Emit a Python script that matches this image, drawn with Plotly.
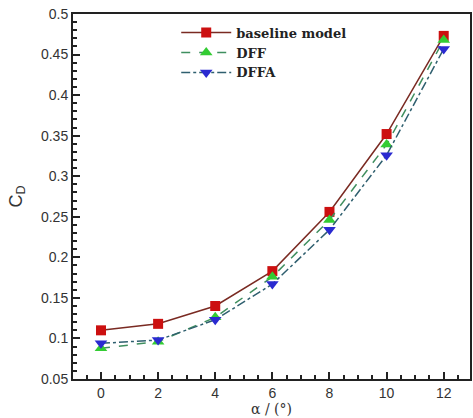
import plotly.graph_objects as go

alpha = [0, 2, 4, 6, 8, 10, 12]
baseline = [0.110, 0.118, 0.140, 0.183, 0.256, 0.352, 0.473]
dff = [0.088, 0.096, 0.126, 0.176, 0.246, 0.339, 0.468]
dffa = [0.094, 0.098, 0.123, 0.167, 0.234, 0.326, 0.457]

fig = go.Figure()
fig.add_trace(go.Scatter(x=alpha, y=baseline, name="baseline model", mode="lines+markers",
                         line=dict(color="#7a2a22", width=1.5, dash="solid"),
                         marker=dict(symbol="square", size=10, color="#cc1010", line=dict(width=0))))
fig.add_trace(go.Scatter(x=alpha, y=dff, name="DFF", mode="lines+markers",
                         line=dict(color="#3f8f5f", width=1.5, dash="dash"),
                         marker=dict(symbol="triangle-up", size=11, color="#33cc33", line=dict(width=0))))
fig.add_trace(go.Scatter(x=alpha, y=dffa, name="DFFA", mode="lines+markers",
                         line=dict(color="#2f5f6f", width=1.5, dash="dashdot"),
                         marker=dict(symbol="triangle-down", size=11, color="#2a2ad0", line=dict(width=0))))

axis_common = dict(showline=True, linecolor="#222", linewidth=2, mirror=True,
                   ticks="inside", ticklen=7, tickwidth=1.5, tickcolor="#222",
                   showgrid=False, zeroline=False,
                   tickfont=dict(family="Arial, Liberation Sans", size=14, color="#333"))
fig.update_xaxes(range=[-0.98, 12.92], tickvals=[0, 2, 4, 6, 8, 10, 12],
                 minor=dict(dtick=0.5, ticks="inside", ticklen=4, tickcolor="#222"),
                 title=dict(text="α / (°)", font=dict(family="DejaVu Serif, serif", size=14, color="#333"), standoff=3),
                 **axis_common)
fig.update_yaxes(range=[0.05, 0.5], dtick=0.05, tickformat="~g",
                 minor=dict(dtick=0.01, ticks="inside", ticklen=4, tickcolor="#222"),
                 title=dict(text="C<sub>D</sub>", font=dict(family="Arial, Liberation Sans", size=18, color="#333"), standoff=14),
                 **axis_common)
fig.update_layout(width=473, height=418, margin=dict(l=73, r=1, t=14, b=39),
                  plot_bgcolor="white", paper_bgcolor="white",
                  legend=dict(x=0.26, y=0.99, xanchor="left", yanchor="top",
                              bgcolor="rgba(0,0,0,0)", itemwidth=50, tracegroupgap=0,
                              font=dict(family="DejaVu Serif, serif", size=13, color="#222", weight="bold")))
fig.write_html("out.html")
